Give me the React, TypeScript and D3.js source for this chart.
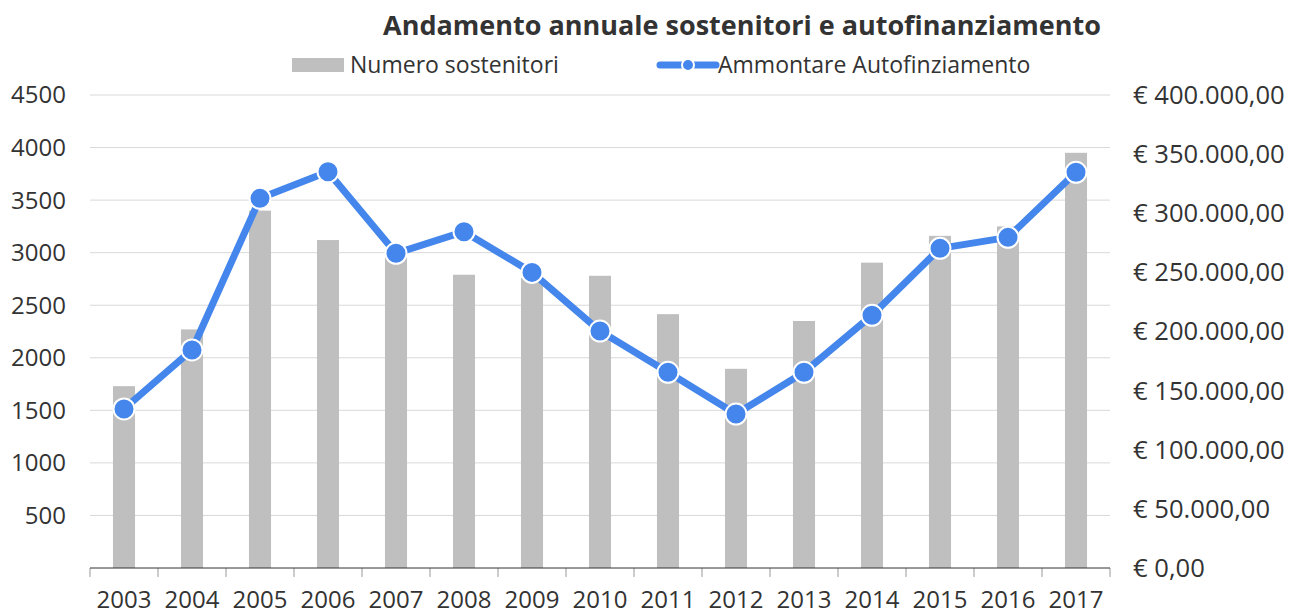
import React, { useEffect, useRef } from "react";
import * as d3 from "d3";

const years = ["2003", "2004", "2005", "2006", "2007", "2008", "2009", "2010", "2011", "2012", "2013", "2014", "2015", "2016", "2017"];
const sostenitori = [1730, 2270, 3400, 3120, 2960, 2790, 2760, 2780, 2415, 1895, 2350, 2905, 3160, 3250, 3950];
const autofinanziamento = [134500, 184400, 312600, 335100, 266100, 284400, 250000, 200400, 165500, 130200, 165500, 213700, 270300, 279600, 334600];
const leftTicks = [500, 1000, 1500, 2000, 2500, 3000, 3500, 4000, 4500];
const rightTicks = [0, 50000, 100000, 150000, 200000, 250000, 300000, 350000, 400000];

const title = "Andamento annuale sostenitori e autofinanziamento";
const legendBar = "Numero sostenitori";
const legendLine = "Ammontare Autofinziamento";

export default function App() {
  const ref = useRef<SVGSVGElement>(null);

  useEffect(() => {
    document.body.style.margin = "0";
    const width = 1290;
    const height = 612;
    const margin = { top: 95, right: 180, bottom: 44, left: 90 };
    const font = "'Open Sans', sans-serif";
    const textColor = "#333333";
    const blue = "#4486ec";

    const svg = d3.select(ref.current);
    svg.selectAll("*").remove();

    const x = d3
      .scaleBand()
      .domain(years)
      .range([margin.left, width - margin.right])
      .paddingInner(0.676)
      .paddingOuter(0.338);

    const y = d3
      .scaleLinear()
      .domain([0, 4500])
      .range([height - margin.bottom, margin.top]);

    const y2 = d3
      .scaleLinear()
      .domain([0, 400000])
      .range([height - margin.bottom, margin.top]);

    const locale = d3.formatLocale({
      decimal: ",",
      thousands: ".",
      grouping: [3],
      currency: ["€ ", ""],
    });
    const euro = locale.format("$,.2f");

    // gridlines
    svg
      .append("g")
      .selectAll("line")
      .data(leftTicks)
      .join("line")
      .attr("x1", margin.left)
      .attr("x2", width - margin.right)
      .attr("y1", d => y(d))
      .attr("y2", d => y(d))
      .attr("stroke", "#d9d9d9")
      .attr("stroke-width", 1);

    // left labels
    svg
      .append("g")
      .attr("font-family", font)
      .attr("font-size", 24)
      .attr("fill", textColor)
      .attr("text-anchor", "end")
      .selectAll("text")
      .data(leftTicks)
      .join("text")
      .attr("x", 66)
      .attr("y", d => y(d))
      .attr("dy", "0.35em")
      .text(d => d);

    // right labels
    svg
      .append("g")
      .attr("font-family", font)
      .attr("font-size", 25.6)
      .attr("fill", textColor)
      .selectAll("text")
      .data(rightTicks)
      .join("text")
      .attr("x", 1133)
      .attr("y", d => y2(d))
      .attr("dy", "0.35em")
      .text(d => euro(d));

    // bars
    svg
      .append("g")
      .attr("fill", "#bfbfbf")
      .selectAll("rect")
      .data(sostenitori)
      .join("rect")
      .attr("x", (d, i) => x(years[i]))
      .attr("width", x.bandwidth())
      .attr("y", d => y(d))
      .attr("height", d => y(0) - y(d));

    // x axis
    const step = x.step();
    const base = y(0);
    svg
      .append("g")
      .attr("stroke", "#999999")
      .selectAll("line")
      .data(d3.range(years.length + 1))
      .join("line")
      .attr("x1", i => margin.left + i * step)
      .attr("x2", i => margin.left + i * step)
      .attr("y1", base)
      .attr("y2", base + 9);
    svg
      .append("line")
      .attr("x1", margin.left)
      .attr("x2", width - margin.right)
      .attr("y1", base)
      .attr("y2", base)
      .attr("stroke", "#333333");
    svg
      .append("g")
      .attr("font-family", font)
      .attr("font-size", 24)
      .attr("fill", textColor)
      .attr("text-anchor", "middle")
      .selectAll("text")
      .data(years)
      .join("text")
      .attr("x", d => x(d) + x.bandwidth() / 2)
      .attr("y", 608)
      .text(d => d);

    // line
    const cx = (i: number) => x(years[i]) + x.bandwidth() / 2;
    svg
      .append("path")
      .datum(autofinanziamento)
      .attr("fill", "none")
      .attr("stroke", blue)
      .attr("stroke-width", 7)
      .attr("stroke-linejoin", "round")
      .attr(
        "d",
        d3
          .line<number>()
          .x((d, i) => cx(i))
          .y(d => y2(d))
      );
    svg
      .append("g")
      .selectAll("circle")
      .data(autofinanziamento)
      .join("circle")
      .attr("cx", (d, i) => cx(i))
      .attr("cy", d => y2(d))
      .attr("r", 10.5)
      .attr("fill", blue)
      .attr("stroke", "white")
      .attr("stroke-width", 2);

    // title
    svg
      .append("text")
      .attr("x", 742)
      .attr("y", 35)
      .attr("text-anchor", "middle")
      .attr("font-family", font)
      .attr("font-size", 27)
      .attr("font-weight", "bold")
      .attr("fill", textColor)
      .text(title);

    // legend
    const lg = svg
      .append("g")
      .attr("font-family", font)
      .attr("font-size", 23)
      .attr("fill", textColor);
    lg.append("rect")
      .attr("x", 292)
      .attr("y", 58)
      .attr("width", 52)
      .attr("height", 14)
      .attr("fill", "#bfbfbf");
    lg.append("text").attr("x", 350).attr("y", 73).text(legendBar);
    lg.append("line")
      .attr("x1", 660)
      .attr("x2", 716)
      .attr("y1", 65)
      .attr("y2", 65)
      .attr("stroke", blue)
      .attr("stroke-width", 7)
      .attr("stroke-linecap", "round");
    lg.append("circle")
      .attr("cx", 688)
      .attr("cy", 65)
      .attr("r", 6)
      .attr("fill", blue)
      .attr("stroke", "white")
      .attr("stroke-width", 2);
    lg.append("text").attr("x", 718).attr("y", 73).text(legendLine);
  }, []);

  return <svg ref={ref} width={1290} height={612} style={{ display: "block" }} />;
}
